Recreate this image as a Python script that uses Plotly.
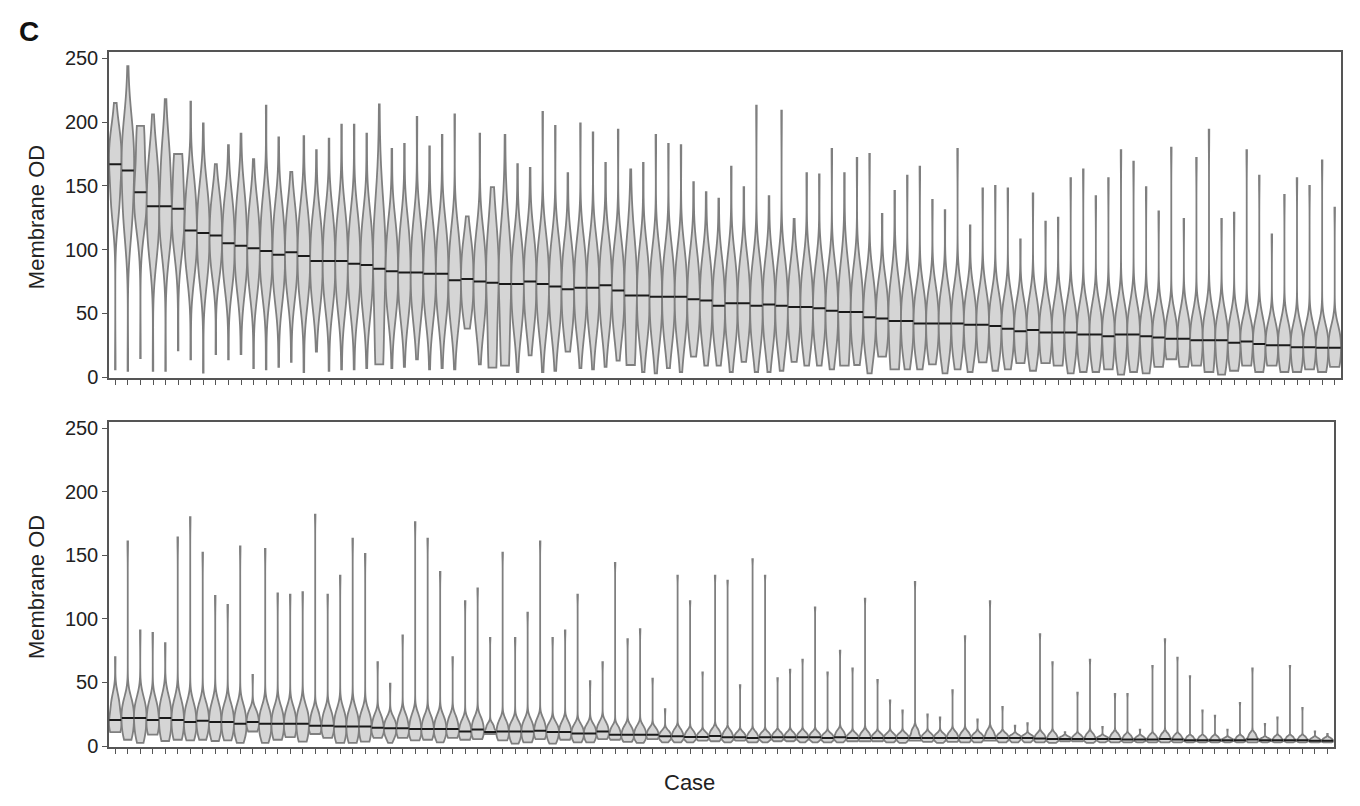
import plotly.graph_objects as go

cases = list(range(1, 99))

# ---------------- top panel ----------------
top_median = [167, 162, 145, 134, 134, 132, 115, 113, 111, 105,
              103, 101, 99, 96, 98, 95, 91, 91, 91, 89,
              88, 85, 83, 82, 82, 81, 81, 76, 77, 75,
              74, 73, 73, 75, 73, 71, 69, 70, 70, 72,
              68, 64, 64, 63, 63, 63, 61, 60, 56, 58,
              58, 56, 57, 56, 55, 55, 54, 52, 51, 51,
              47, 46, 44, 44, 42, 42, 42, 42, 41, 41,
              40, 38, 36, 37, 35, 35, 35, 33.5, 33.5, 32,
              33.5, 33.5, 32, 31, 30, 30, 29, 29, 29, 27,
              28, 26, 25, 25, 23.5, 23.5, 23, 23]
top_max = [215, 244, 197, 206, 218, 175, 216, 199, 167, 182,
           191, 171, 213, 188, 161, 189, 178, 187, 198, 198,
           191, 214, 179, 183, 204, 181, 190, 206, 126, 191,
           149, 190, 167, 164, 208, 197, 160, 199, 192, 168,
           194, 163, 168, 190, 183, 182, 153, 145, 140, 165,
           149, 213, 142, 209, 124, 160, 159, 179, 160, 172,
           175, 128, 146, 158, 165, 139, 131, 179, 119, 148,
           150, 148, 108, 144, 122, 125, 156, 163, 142, 156,
           178, 169, 149, 130, 180, 124, 172, 194, 124, 129,
           178, 158, 112, 143, 156, 150, 170, 133]
top_min = [6, 5, 15, 5, 5, 21, 14, 3.5, 18, 14,
           18, 7, 6, 8, 12, 4, 20, 5, 6, 6,
           7, 10, 7, 8, 14, 6, 7, 6, 38, 10,
           7.4, 9, 4, 17, 4, 5, 20, 7, 6, 8,
           13, 9.5, 4, 3, 7, 4, 16, 9, 9, 4,
           12, 4, 4, 5, 12, 9, 9, 6, 9, 9.5,
           3, 16, 6, 6, 6, 10, 3, 6, 4, 11.5,
           5, 6, 11, 5, 11, 9, 3, 4, 4, 6,
           2, 4, 3, 8, 14, 8, 9, 4, 2, 5,
           9, 4, 9, 4, 4, 6, 4, 8]
top_q1 = [135, 125, 130, 105, 110, 110, 90, 85, 88, 80,
          78, 75, 75, 70, 72, 68, 65, 65, 63, 62,
          60, 15, 57, 56, 55, 55, 54, 50, 55, 48,
          12, 14, 46, 48, 46, 44, 43, 44, 44, 45,
          42, 14, 38, 37, 37, 37, 36, 35, 32, 33,
          34, 31, 32, 31, 31, 30, 30, 28, 14, 27,
          24, 25, 10, 22, 21, 21, 20, 20, 20, 20,
          19, 18, 17, 17, 16, 12, 15, 14, 14, 10,
          13, 13, 12, 12, 16, 12, 12, 6, 10, 10,
          10, 9, 11, 9, 8, 9, 8, 10]
top_q3 = [185, 190, 190, 165, 172, 170, 145, 140, 135, 132,
          135, 128, 130, 125, 125, 123, 118, 120, 120, 118,
          117, 115, 112, 112, 112, 110, 110, 105, 100, 103,
          100, 100, 100, 102, 100, 98, 96, 97, 97, 98,
          95, 92, 92, 90, 90, 90, 88, 86, 82, 85,
          84, 82, 83, 82, 80, 80, 79, 77, 76, 76,
          70, 68, 66, 65, 62, 62, 62, 62, 60, 60,
          58, 56, 53, 55, 52, 52, 52, 50, 50, 48,
          50, 50, 48, 46, 45, 45, 44, 44, 44, 42,
          40, 40, 38, 38, 36, 36, 35, 35]

# ---------------- bottom panel ----------------
bot_median = [20.5, 22, 22, 20.5, 22, 20.5, 19, 20, 19, 19,
              17.5, 19, 17.5, 17.5, 17.5, 17.5, 16, 16, 15.5, 15.5,
              15.5, 14.5, 14, 14, 13.5, 13.5, 13.5, 13.5, 11.5, 13,
              11, 11.5, 11.5, 11.5, 12, 11, 11, 10, 10, 11.5,
              9, 9, 9, 9, 7.7, 7.7, 7.2, 7.2, 8, 7,
              7, 6.4, 7, 7, 7, 7, 7, 6.4, 7, 6.4,
              6.4, 6.4, 6.4, 6.4, 6.4, 6.4, 6.4, 6.4, 6.4, 6.4,
              6.4, 6.4, 6.4, 6.4, 5.9, 5.6, 5.6, 5.6, 5.6, 5.6,
              5.6, 5.1, 5.1, 5.1, 5.6, 5.1, 4.6, 4.6, 4.6, 4.6,
              4.6, 5.1, 4.6, 4.6, 4.6, 4.6, 4.3, 4.3]
bot_max = [70, 161, 91, 89, 81, 164, 180, 152, 118, 111,
           157, 56, 155, 120, 119, 121, 182, 119, 134, 163,
           151, 66, 49, 87, 176, 163, 137, 70, 114, 124,
           85, 152, 85, 105, 161, 85, 91, 119, 51, 66,
           144, 84, 92, 53, 29, 134, 114, 58, 134, 130,
           48, 147, 134, 53.5, 60, 68, 109, 58, 75, 61,
           116, 52, 36, 28, 129, 25, 22.5, 44, 86.5, 21,
           114, 30.8, 16, 18, 88, 66, 11, 42, 68, 15,
           41, 41, 13, 63, 84, 69.5, 55, 28, 24, 13,
           34, 61, 17.5, 22.5, 63, 30, 11.5, 9.5]
bot_min = [11, 5, 2.5, 9, 4, 5, 4.5, 5, 4, 4.5,
           2.5, 11.5, 2.5, 5, 7, 3.5, 9.5, 6.5, 2.5, 2.5,
           3.5, 6.5, 2.5, 6.5, 4.5, 5, 3, 6.5, 5, 5.5,
           9.5, 4.5, 2, 3, 5.5, 2, 5, 3, 3, 5.5,
           5, 3.3, 2.5, 5.5, 3, 3, 3, 4.3, 3.8, 3,
           4.3, 3, 3, 3.8, 3.8, 3, 3, 3, 3, 3.8,
           3.8, 3.8, 3, 2.5, 4.3, 3.3, 2.5, 3.3, 3, 3,
           4.3, 3, 3, 3, 3, 2.5, 3.8, 3.8, 2.5, 3,
           3, 3, 3, 3, 3, 3, 3, 3, 3, 3,
           3, 3, 3, 3, 3, 3, 3, 3]
bot_q1 = [13, 10, 9, 11, 9, 9, 9, 10, 9, 9,
          8, 13, 8, 8, 9, 7, 11, 9, 6, 6,
          6, 9, 8, 8, 7, 7, 7, 8, 6, 7,
          9.5, 6, 5, 5, 7, 5, 6, 5, 5, 7,
          6, 5, 5, 6, 5, 5, 5, 5, 5, 5,
          5, 4, 5, 5, 5, 5, 5, 4, 5, 4,
          4, 4, 4, 4, 5, 4, 4, 4, 4, 4,
          4.3, 4, 4, 4, 4, 4, 4, 4, 4, 4,
          4, 4, 4, 4, 4, 4, 4, 4, 4, 4,
          4, 4, 4, 4, 4, 4, 3.5, 3.5]
bot_q3 = [35, 33, 33, 32, 34, 32, 30, 30, 30, 29,
          28, 26, 27, 27, 27, 27, 25, 25, 25, 25,
          24, 22, 20, 22, 22, 21, 21, 21, 18, 20,
          16, 18, 17, 18, 19, 16, 17, 15, 15, 17,
          14, 14, 14, 13, 11, 12, 11, 10, 12, 11,
          10, 10, 10, 10, 10, 10, 10, 9, 11, 9,
          10, 9, 9, 9, 12, 9, 9, 10, 10, 9,
          11, 9, 8, 8, 9, 9, 7, 8, 9, 7,
          9, 8, 7, 8, 9, 8, 7, 7, 7, 6,
          7, 9, 6, 7, 7, 7, 6, 6]

y_ticks = [0, 50, 100, 150, 200, 250]

FONT = "Liberation Sans, Arial, Helvetica, sans-serif"
OUTLINE = "#7f7f7f"
FILL = "#d5d5d5"
FRAME = "#555555"

fig = go.Figure()


def add_panel(medians, maxs, mins, q1s, q3s, xa, ya):
    for c, med, mx, mn, a, b in zip(cases, medians, maxs, mins, q1s, q3s):
        w = 12
        sample = [mn] + [a] * w + [med] * w + [b] * w + [mx]
        bw = max(0.38 * (b - a), 1.0)
        fig.add_trace(go.Violin(
            x0=c, y=sample, width=1.0, bandwidth=bw, spanmode="hard",
            points=False, scalemode="width", side="both",
            line=dict(color=OUTLINE, width=1.8), fillcolor=FILL,
            box_visible=False, meanline_visible=False,
            hoverinfo="skip", showlegend=False, xaxis=xa, yaxis=ya))
    fig.add_trace(go.Scatter(
        x=cases, y=medians, mode="markers",
        marker=dict(symbol="line-ew", size=8.5,
                    line=dict(color="#1a1a1a", width=2)),
        hoverinfo="skip", showlegend=False, xaxis=xa, yaxis=ya))


add_panel(top_median, top_max, top_min, top_q1, top_q3, "x", "y")
add_panel(bot_median, bot_max, bot_min, bot_q1, bot_q3, "x2", "y2")

W, H = 1360, 806

xcommon = dict(range=[0.5, 98.5], tickvals=cases, showticklabels=False,
               ticks="outside", ticklen=5, tickwidth=1.2, tickcolor=FRAME,
               showline=True, linecolor=FRAME, linewidth=1.5, mirror=True,
               showgrid=False, zeroline=False, fixedrange=True)
ycommon = dict(range=[-1, 254.8], tickvals=y_ticks,
               ticktext=[str(v) for v in y_ticks],
               ticks="outside", ticklen=5, tickwidth=1.2, tickcolor=FRAME,
               tickfont=dict(family=FONT, size=20, color="#222222"),
               showline=True, linecolor=FRAME, linewidth=1.5, mirror=True,
               showgrid=False, zeroline=False, fixedrange=True)

fig.update_layout(
    width=W, height=H,
    margin=dict(l=0, r=0, t=0, b=0),
    paper_bgcolor="white", plot_bgcolor="white",
    violinmode="overlay", violingap=0,
    font=dict(family=FONT, color="#222222"),
    xaxis=dict(domain=[101 / W, 1333 / W], anchor="y", **xcommon),
    yaxis=dict(domain=[1 - 372.3 / H, 1 - 40 / H], anchor="x", **ycommon),
    xaxis2=dict(domain=[101 / W, 1325.7 / W], anchor="y2", **xcommon),
    yaxis2=dict(domain=[1 - 748.3 / H, 1 - 416.7 / H], anchor="x2", **ycommon),
    annotations=[
        dict(text="<b>C</b>", x=21 / W, y=1 - 19 / H, xref="paper", yref="paper",
             xanchor="center", yanchor="middle", showarrow=False,
             font=dict(family=FONT, size=28, color="#111111")),
        dict(text="Membrane OD", x=28 / W, y=1 - 208 / H, xref="paper", yref="paper",
             xanchor="center", yanchor="middle", textangle=-90, showarrow=False,
             font=dict(family=FONT, size=22, color="#222222")),
        dict(text="Membrane OD", x=28 / W, y=1 - 585 / H, xref="paper", yref="paper",
             xanchor="center", yanchor="middle", textangle=-90, showarrow=False,
             font=dict(family=FONT, size=22, color="#222222")),
        dict(text="Case", x=681 / W, y=1 - 784 / H, xref="paper", yref="paper",
             xanchor="center", yanchor="middle", showarrow=False,
             font=dict(family=FONT, size=22, color="#222222")),
    ],
)

fig.write_html("out.html")
